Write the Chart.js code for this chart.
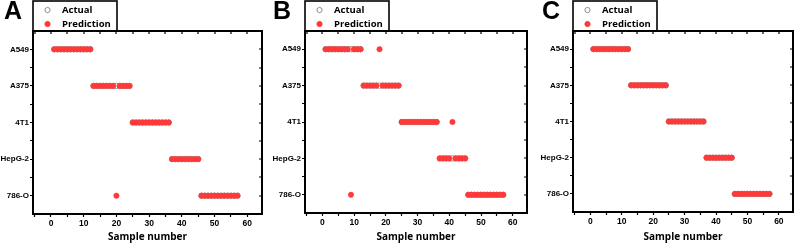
<!DOCTYPE html>
<html>
<head>
<meta charset="utf-8">
<script src="https://cdn.jsdelivr.net/npm/chart.js@4.4.1/dist/chart.umd.min.js"></script>
<style>
  html, body { margin: 0; padding: 0; background: #fff; }
  #wrap { position: relative; width: 803px; height: 244px; overflow: hidden; }
  .panel { position: absolute; top: 0; height: 244px; }
</style>
</head>
<body>
<div id="wrap">
  <div class="panel" style="left:0px;width:268px"><canvas id="chartA" width="268" height="244"></canvas></div>
  <div class="panel" style="left:268px;width:267px"><canvas id="chartB" width="267" height="244"></canvas></div>
  <div class="panel" style="left:535px;width:268px"><canvas id="chartC" width="268" height="244"></canvas></div>
</div>
<script>
// cell lines, top to bottom (y = 1..5)
const categories = ['A549', 'A375', '4T1', 'HepG-2', '786-O'];

const sampleNumbers = [
  1, 2, 3, 4, 5, 6, 7, 8, 9, 10, 11, 12,
  13, 14, 15, 16, 17, 18, 19, 20, 21, 22, 23, 24,
  25, 26, 27, 28, 29, 30, 31, 32, 33, 34, 35, 36,
  37, 38, 39, 40, 41, 42, 43, 44, 45,
  46, 47, 48, 49, 50, 51, 52, 53, 54, 55, 56, 57
];

const actualClass = [
  1, 1, 1, 1, 1, 1, 1, 1, 1, 1, 1, 1,
  2, 2, 2, 2, 2, 2, 2, 2, 2, 2, 2, 2,
  3, 3, 3, 3, 3, 3, 3, 3, 3, 3, 3, 3,
  4, 4, 4, 4, 4, 4, 4, 4, 4,
  5, 5, 5, 5, 5, 5, 5, 5, 5, 5, 5, 5
];

// panel A: sample 20 misclassified
const predictedA = [
  1, 1, 1, 1, 1, 1, 1, 1, 1, 1, 1, 1,
  2, 2, 2, 2, 2, 2, 2, 5, 2, 2, 2, 2,
  3, 3, 3, 3, 3, 3, 3, 3, 3, 3, 3, 3,
  4, 4, 4, 4, 4, 4, 4, 4, 4,
  5, 5, 5, 5, 5, 5, 5, 5, 5, 5, 5, 5
];

// panel B: samples 9, 18, 41 misclassified
const predictedB = [
  1, 1, 1, 1, 1, 1, 1, 1, 5, 1, 1, 1,
  2, 2, 2, 2, 2, 1, 2, 2, 2, 2, 2, 2,
  3, 3, 3, 3, 3, 3, 3, 3, 3, 3, 3, 3,
  4, 4, 4, 4, 3, 4, 4, 4, 4,
  5, 5, 5, 5, 5, 5, 5, 5, 5, 5, 5, 5
];

// panel C: all correct
const predictedC = [
  1, 1, 1, 1, 1, 1, 1, 1, 1, 1, 1, 1,
  2, 2, 2, 2, 2, 2, 2, 2, 2, 2, 2, 2,
  3, 3, 3, 3, 3, 3, 3, 3, 3, 3, 3, 3,
  4, 4, 4, 4, 4, 4, 4, 4, 4,
  5, 5, 5, 5, 5, 5, 5, 5, 5, 5, 5, 5
];

const xTickValues = [-5, 0, 5, 10, 15, 20, 25, 30, 35, 40, 45, 50, 55, 60];
const yTickValues = [1, 1.5, 2, 2.5, 3, 3.5, 4, 4.5, 5];

const RED = 'rgb(255, 56, 56)';
const GREY = 'rgb(140, 140, 140)';
const X_TICK_FONT = { family: 'Liberation Sans', size: 8.5, weight: 'bold' };
const Y_TICK_FONT = { family: 'Liberation Sans', size: 8, weight: 'bold' };

function toPoints(classes) {
  return sampleNumbers.map((x, i) => ({ x: x, y: classes[i] }));
}

// top/right frame with inward ticks, legend box, panel letter
const framePlugin = {
  id: 'frame',
  afterDraw(chart, args, opts) {
    const ctx = chart.ctx;
    const a = chart.chartArea;
    const sx = chart.scales.x, sy = chart.scales.y;
    ctx.save();
    ctx.strokeStyle = '#000';
    ctx.lineWidth = 2;
    ctx.beginPath();
    ctx.moveTo(a.left, a.top);
    ctx.lineTo(a.right, a.top);
    ctx.lineTo(a.right, a.bottom);
    ctx.stroke();

    ctx.lineWidth = 1.2;
    ctx.beginPath();
    xTickValues.forEach(v => {
      const px = Math.round(sx.getPixelForValue(v));
      ctx.moveTo(px, a.top);
      ctx.lineTo(px, a.top + 3);
    });
    yTickValues.forEach(v => {
      const py = Math.round(sy.getPixelForValue(v));
      ctx.moveTo(a.right, py);
      ctx.lineTo(a.right - 3, py);
    });
    ctx.stroke();

    // legend box sitting on the frame
    const lx = a.left, lw = 84, ly = 1;
    ctx.lineWidth = 1.6;
    ctx.strokeRect(lx, ly, lw, a.top - ly);
    const rows = [
      { text: 'Actual', fill: '#fff', stroke: GREY, y: 10 },
      { text: 'Prediction', fill: RED, stroke: RED, y: 24 }
    ];
    ctx.font = 'bold 9.5px "Open Sans"';
    ctx.textBaseline = 'middle';
    ctx.textAlign = 'left';
    rows.forEach(r => {
      ctx.beginPath();
      ctx.arc(lx + 14.5, r.y, 2.6, 0, Math.PI * 2);
      ctx.fillStyle = r.fill;
      ctx.fill();
      ctx.lineWidth = 1;
      ctx.strokeStyle = r.stroke;
      ctx.stroke();
      ctx.fillStyle = '#000';
      ctx.fillText(r.text, lx + 29, r.y + 0.5);
    });

    // panel letter
    ctx.font = 'bold 25px "Liberation Sans"';
    ctx.textBaseline = 'alphabetic';
    ctx.fillStyle = '#000';
    ctx.fillText(opts.letter, opts.letterX, 19);
    ctx.restore();
  }
};

function makePanel(canvasId, letter, letterX, predicted, area) {
  const canvas = document.getElementById(canvasId);
  const W = canvas.width, H = canvas.height;
  new Chart(canvas.getContext('2d'), {
    type: 'scatter',
    data: {
      datasets: [{
        label: 'Actual',
        data: toPoints(actualClass),
        backgroundColor: '#fff',
        borderColor: GREY,
        borderWidth: 1,
        pointRadius: 2.7,
        order: 2
      }, {
        label: 'Prediction',
        data: toPoints(predicted),
        backgroundColor: RED,
        borderColor: RED,
        borderWidth: 0.5,
        pointRadius: 2.7,
        order: 1
      }]
    },
    options: {
      responsive: false,
      animation: false,
      events: [],
      layout: { padding: { top: area.top, right: W - area.right, left: 0, bottom: 0 } },
      plugins: {
        legend: { display: false },
        tooltip: { enabled: false },
        frame: { letter: letter, letterX: letterX }
      },
      scales: {
        x: {
          type: 'linear',
          min: -5.5,
          max: 64.5,
          afterBuildTicks: (scale) => { scale.ticks = xTickValues.map(v => ({ value: v })); },
          afterFit: (scale) => { scale.height = H - area.bottom; },
          ticks: {
            autoSkip: false,
            maxRotation: 0,
            padding: 2,
            color: '#000',
            font: X_TICK_FONT,
            callback: (v) => (v % 10 === 0 ? String(v) : '')
          },
          grid: { drawOnChartArea: false, drawTicks: true, tickLength: 3, tickColor: '#000', tickWidth: 1.2 },
          border: { display: true, color: '#000', width: 2 },
          title: {
            display: true,
            text: 'Sample number',
            color: '#000',
            font: { family: 'Open Sans', size: 10, weight: 'bold' },
            padding: { top: 0, bottom: 1 }
          }
        },
        y: {
          type: 'linear',
          min: 0.5,
          max: 5.5,
          reverse: true,
          afterBuildTicks: (scale) => { scale.ticks = yTickValues.map(v => ({ value: v })); },
          afterFit: (scale) => { scale.width = area.left; },
          ticks: {
            autoSkip: false,
            padding: 1,
            color: '#000',
            font: Y_TICK_FONT,
            callback: (v) => (Number.isInteger(v) ? categories[v - 1] : '')
          },
          grid: { drawOnChartArea: false, drawTicks: true, tickLength: 3, tickColor: '#000', tickWidth: 1.2 },
          border: { display: true, color: '#000', width: 2 }
        }
      }
    },
    plugins: [framePlugin]
  });
}

makePanel('chartA', 'A', 4, predictedA, { left: 33, right: 262, top: 31, bottom: 214 });
makePanel('chartB', 'B', 5, predictedB, { left: 37, right: 259, top: 31, bottom: 213 });
makePanel('chartC', 'C', 7, predictedC, { left: 38, right: 258, top: 31, bottom: 212 });
</script>
</body>
</html>
